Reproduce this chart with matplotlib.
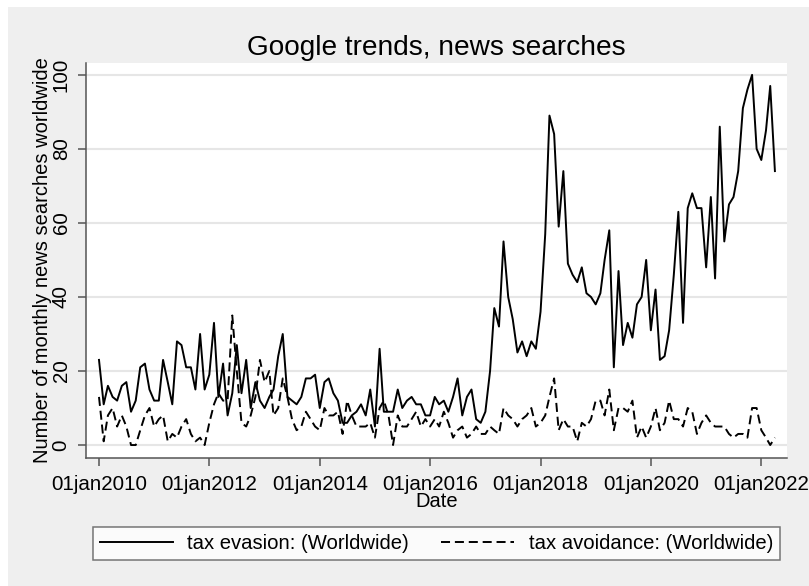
import pandas as pd
import numpy as np
import matplotlib
matplotlib.use("Agg")
import matplotlib.pyplot as plt
from matplotlib.patches import Rectangle

# monthly Google trends values, Jan 2010 - Apr 2022
tax_evasion = [23, 11, 16, 13, 12, 16, 17, 9, 12, 21, 22, 15,
               12, 12, 23, 17, 11, 28, 27, 21, 21, 15, 30, 15,
               19, 33, 13, 22, 8, 14, 27, 14, 23, 10, 17, 12,
               10, 13, 15, 24, 30, 13, 12, 11, 13, 18, 18, 19,
               10, 17, 18, 14, 12, 6, 6, 8, 9, 11, 8, 15,
               5, 26, 9, 9, 9, 15, 10, 12, 13, 11, 11, 8,
               8, 13, 11, 12, 9, 13, 18, 8, 13, 15, 7, 6,
               9, 20, 37, 32, 55, 40, 34, 25, 28, 24, 28, 26,
               36, 57, 89, 84, 59, 74, 49, 46, 44, 48, 41, 40,
               38, 41, 50, 58, 21, 47, 27, 33, 29, 38, 40, 50,
               31, 42, 23, 24, 31, 46, 63, 33, 64, 68, 64, 64,
               48, 67, 45, 86, 55, 65, 67, 74, 91, 96, 100, 80,
               77, 85, 97, 74]
tax_avoidance = [13, 1, 8, 10, 5, 8, 5, 0, 0, 4, 8, 10,
                 5, 7, 8, 1, 3, 2, 5, 7, 3, 1, 2, 0,
                 6, 11, 14, 12, 12, 35, 20, 6, 5, 8, 13, 23,
                 17, 20, 8, 10, 18, 13, 7, 4, 5, 9, 7, 5,
                 4, 10, 8, 8, 9, 3, 12, 8, 5, 5, 5, 6,
                 2, 10, 12, 8, 0, 8, 5, 5, 7, 9, 5, 7,
                 5, 7, 5, 9, 6, 2, 4, 5, 2, 3, 5, 3,
                 3, 5, 4, 3, 10, 8, 7, 5, 7, 8, 10, 5,
                 6, 8, 13, 18, 4, 7, 5, 5, 1, 6, 5, 7,
                 12, 12, 8, 15, 4, 10, 10, 9, 12, 2, 5, 2,
                 5, 10, 4, 6, 12, 7, 7, 5, 10, 9, 3, 6,
                 8, 6, 5, 5, 5, 3, 2, 3, 3, 2, 10, 10,
                 4, 2, 0, 2]
dates = pd.date_range("2010-01-01", periods=len(tax_evasion), freq="MS")
tick_years = [2010, 2012, 2014, 2016, 2018, 2020, 2022]

plt.rcParams["font.family"] = ["Liberation Sans", "DejaVu Sans"]
plt.rcParams["lines.scale_dashes"] = False

W, H = 809, 586
fig = plt.figure(figsize=(W / 100, H / 100), dpi=100, facecolor="white")
# grey graph region (Stata style)
fig.patches.append(Rectangle((8 / W, 0), 1, 1 - 7 / H, transform=fig.transFigure,
                             facecolor="#efefef", edgecolor="none", zorder=-10))

ax = fig.add_axes([86 / W, 1 - 458 / H, (787 - 86) / W, (458 - 63) / H])
ax.set_facecolor("white")

ax.plot(dates, tax_evasion, color="black", lw=1.4, label="tax evasion: (Worldwide)")
ax.plot(dates, tax_avoidance, color="black", lw=1.4, dashes=(6.5, 3.5),
        label="tax avoidance: (Worldwide)")

ax.set_ylim(-3.5, 103.2)
ax.set_xlim(pd.Timestamp("2009-10-07"), pd.Timestamp("2022-06-20"))

ticks = [pd.Timestamp(f"{y}-01-01") for y in tick_years]
ax.set_xticks(ticks)
ax.set_xticklabels([f"01jan{y}" for y in tick_years])
ax.set_yticks([0, 20, 40, 60, 80, 100])
ax.set_yticklabels(["0", "20", "40", "60", "80", "100"], rotation=90, va="center")
ax.yaxis.grid(True, color="#e6e6e6", lw=1.5)
ax.set_axisbelow(True)

for side in ["top", "right"]:
    ax.spines[side].set_visible(False)
for side in ["left", "bottom"]:
    ax.spines[side].set_color("#555555")
    ax.spines[side].set_linewidth(1.1)
ax.tick_params(axis="both", length=6, width=1.1, color="#555555",
               labelsize=14.8, labelcolor="black")
ax.tick_params(axis="y", pad=5)
ax.tick_params(axis="x", pad=6)

ax.set_xlabel("Date", fontsize=14.5, labelpad=-1)
ax.set_ylabel("Number of monthly news searches worldwide", fontsize=14.5, labelpad=0)
ax.set_title("Google trends, news searches", fontsize=20.2, pad=6)

leg = fig.legend(loc="center", ncol=2, mode="expand",
                 bbox_to_anchor=(93 / W, (H - 562) / H, (780 - 93) / W, 37 / H),
                 fontsize=14.6, handlelength=3.6, handletextpad=0.7,
                 frameon=True, fancybox=False, borderaxespad=0, borderpad=0.35)
leg.get_frame().set_edgecolor("#555555")
leg.get_frame().set_linewidth(1.1)

fig.savefig("out.png", dpi=100, facecolor=fig.get_facecolor())
